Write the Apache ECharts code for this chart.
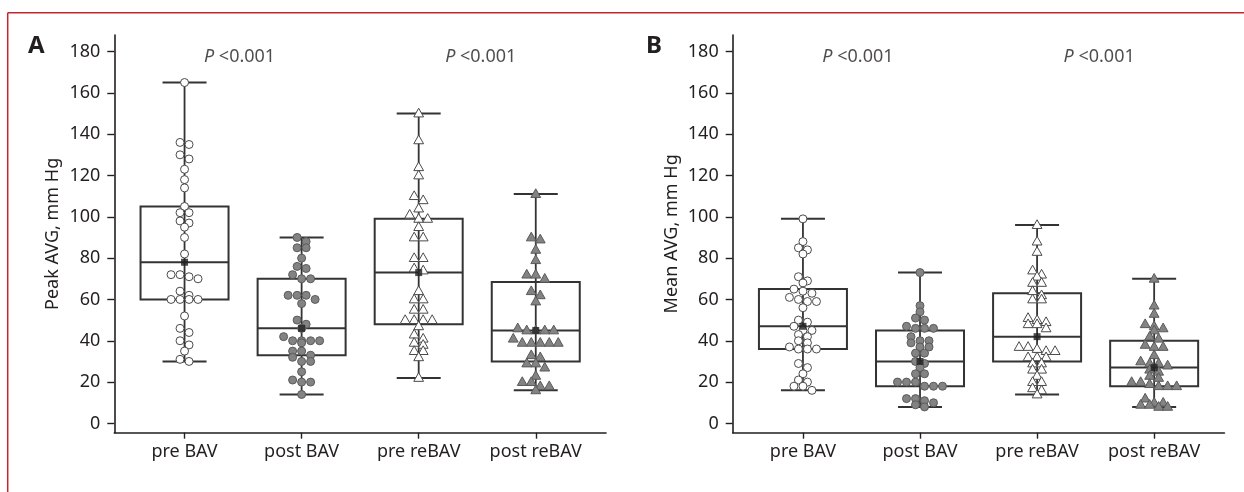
<!DOCTYPE html>
<html>
<head>
<meta charset="utf-8">
<script src="https://cdn.jsdelivr.net/npm/echarts@6/dist/echarts.min.js"></script>
<style>
  html, body { margin: 0; padding: 0; background: #fff; }
  #main { width: 1244px; height: 492px; }
</style>
</head>
<body>
<div id="main"></div>
<script>
  var categories = ['pre BAV', 'post BAV', 'pre reBAV', 'post reBAV'];
  var yTicks = [0, 20, 40, 60, 80, 100, 120, 140, 160, 180];
  var xTicks = [1, 2, 3, 4];
  var pLabels = ['<0.001', '<0.001'];

  // panel A - Peak AVG
  var peakPreBav = [165, 136, 135, 130, 128, 123, 118, 114, 105, 102, 102, 98, 97, 95, 90, 82, 72, 72, 71, 70, 64, 62, 60, 60, 60, 60, 52, 46, 44, 40, 38, 35, 31, 30];
  var peakPostBav = [90, 88, 85, 85, 80, 76, 75, 72, 70, 70, 62, 62, 62, 60, 58, 50, 48, 46, 42, 40, 40, 40, 40, 39, 35, 35, 33, 32, 30, 30, 25, 21, 20, 20, 14];
  var peakPreReBav = [150, 137, 124, 120, 110, 108, 104, 101, 99, 99, 95, 90, 90, 80, 80, 75, 74, 64, 60, 60, 55, 55, 50, 50, 50, 50, 47, 43, 41, 39, 38, 35, 35, 32, 22];
  var peakPostReBav = [111, 90, 89, 84, 79, 72, 72, 70, 64, 62, 59, 46, 45, 45, 45, 45, 41, 39, 39, 39, 39, 39, 33, 32, 29, 29, 27, 23, 20, 20, 18, 18, 16];
  // [min, Q1, median, Q3, max]
  var peakBoxes = [[30, 60, 78, 105, 165], [14, 33, 46, 70, 90], [22, 48, 73, 99, 150], [16, 30, 45, 68.5, 111]];
  var peakMeans = [78, 46, 73, 45];

  // panel B - Mean AVG
  var meanPreBav = [99, 88, 85, 84, 82, 71, 69, 68, 65, 64, 63, 61, 60, 59, 59, 56, 50, 49, 47, 45, 45, 43, 42, 40, 39, 37, 36, 36, 36, 29, 27, 24, 21, 20, 18, 18, 16];
  var meanPostBav = [73, 57, 54, 51, 50, 47, 46, 46, 46, 42, 40, 40, 39, 37, 37, 34, 34, 30, 29, 27, 24, 24, 20, 20, 20, 18, 18, 18, 12, 12, 11, 10, 9, 8];
  var meanPreReBav = [96, 88, 83, 74, 72, 71, 68, 68, 64, 62, 60, 60, 51, 50, 49, 48, 48, 46, 37, 37, 36, 35, 35, 32, 32, 32, 29, 29, 26, 26, 23, 20, 20, 17, 16, 14];
  var meanPostReBav = [70, 57, 53, 48, 47, 46, 45, 42, 41, 38, 37, 37, 33, 30, 29, 29, 28, 26, 25, 23, 22, 20, 20, 19, 18, 18, 18, 12, 10, 10, 9, 9, 8, 8];
  var meanBoxes = [[16, 36, 47, 65, 99], [8, 18, 30, 45, 73], [14, 30, 42, 63, 96], [8, 18, 27, 40, 70]];
  var meanMeans = [47, 30, 42, 27];

  var FONT = '"Noto Sans", "Open Sans", sans-serif';
  var INK = '#231f20';
  var LINE = '#333333';

  // points with close values go in one row, centred on the category
  function swarm(values, x) {
    var sorted = values.slice().sort(function (a, b) { return b - a; });
    var out = [], bin = [];
    function flush() {
      bin.forEach(function (v, i) {
        out.push([x, v, (i - (bin.length - 1) / 2) * 9]);
      });
      bin = [];
    }
    sorted.forEach(function (v) {
      if (bin.length && bin[0] - v > 2.5) flush();
      bin.push(v);
    });
    flush();
    return out;
  }

  function renderBox(params, api) {
    var x = api.value(0);
    var pMin = api.coord([x, api.value(1)]);
    var pQ1 = api.coord([x, api.value(2)]);
    var pMed = api.coord([x, api.value(3)]);
    var pQ3 = api.coord([x, api.value(4)]);
    var pMax = api.coord([x, api.value(5)]);
    var cx = pMin[0];
    var st = { stroke: LINE, lineWidth: 2, fill: null };
    return {
      type: 'group',
      children: [
        { type: 'line', shape: { x1: cx, y1: pMax[1], x2: cx, y2: pMin[1] }, style: { stroke: LINE, lineWidth: 1.8 } },
        { type: 'line', shape: { x1: cx - 22, y1: pMax[1], x2: cx + 22, y2: pMax[1] }, style: st },
        { type: 'line', shape: { x1: cx - 22, y1: pMin[1], x2: cx + 22, y2: pMin[1] }, style: st },
        { type: 'rect', shape: { x: cx - 44, y: pQ3[1], width: 88, height: pQ1[1] - pQ3[1] }, style: st },
        { type: 'line', shape: { x1: cx - 44, y1: pMed[1], x2: cx + 44, y2: pMed[1] }, style: st }
      ]
    };
  }

  function pointRenderer(shape, fill, stroke) {
    return function (params, api) {
      var p = api.coord([api.value(0), api.value(1)]);
      var cx = p[0] + api.value(2), cy = p[1];
      var style = { fill: fill, stroke: stroke, lineWidth: 1 };
      if (shape === 'circle') {
        return { type: 'circle', shape: { cx: cx, cy: cy, r: 4 }, style: style };
      }
      return { type: 'polygon', shape: { points: [[cx, cy - 5.3], [cx - 4.9, cy + 3.4], [cx + 4.9, cy + 3.4]] }, style: style };
    };
  }

  var markerStyles = [
    ['circle', '#ffffff', '#4a4a4a'],
    ['circle', '#838383', '#5a5a5a'],
    ['triangle', '#ffffff', '#4a4a4a'],
    ['triangle', '#838383', '#5a5a5a']
  ];

  var panels = [
    { name: 'Peak AVG, mm Hg', left: 114.3, groups: [peakPreBav, peakPostBav, peakPreReBav, peakPostReBav], boxes: peakBoxes, means: peakMeans },
    { name: 'Mean AVG, mm Hg', left: 732.7, groups: [meanPreBav, meanPostBav, meanPreReBav, meanPostReBav], boxes: meanBoxes, means: meanMeans }
  ];

  var grids = [], xAxes = [], yAxes = [], series = [];
  panels.forEach(function (pn, k) {
    grids.push({ left: pn.left, top: 35, width: 491.7, height: 397.7 });
    xAxes.push({
      type: 'value', gridIndex: k, min: 0.4, max: 4.6,
      axisLine: { onZero: false, lineStyle: { color: INK, width: 1.6 } },
      axisTick: { customValues: xTicks, length: 6, lineStyle: { color: INK, width: 1.4 } },
      axisLabel: {
        customValues: xTicks, margin: 10, color: INK, fontSize: 18, fontFamily: FONT,
        formatter: function (v) { return categories[Math.round(v) - 1]; }
      },
      splitLine: { show: false }
    });
    yAxes.push({
      type: 'value', gridIndex: k, min: -4.5, max: 188,
      name: pn.name, nameLocation: 'middle', nameGap: 52,
      nameTextStyle: { color: INK, fontSize: 18, fontFamily: FONT },
      axisLine: { onZero: false, lineStyle: { color: INK, width: 1.6 } },
      axisTick: { customValues: yTicks, length: 7, lineStyle: { color: INK, width: 1.4 } },
      axisLabel: { customValues: yTicks, margin: 14, color: INK, fontSize: 18, fontFamily: FONT },
      splitLine: { show: false }
    });
    series.push({
      type: 'custom', xAxisIndex: k, yAxisIndex: k, z: 2, clip: false,
      renderItem: renderBox,
      data: pn.boxes.map(function (b, i) { return [i + 1].concat(b); })
    });
    pn.groups.forEach(function (vals, i) {
      var ms = markerStyles[i];
      series.push({
        type: 'custom', xAxisIndex: k, yAxisIndex: k, z: 3, clip: false,
        renderItem: pointRenderer(ms[0], ms[1], ms[2]),
        data: swarm(vals, i + 1)
      });
    });
    series.push({
      type: 'scatter', xAxisIndex: k, yAxisIndex: k, z: 4,
      symbol: 'rect', symbolSize: 7, itemStyle: { color: INK },
      data: pn.means.map(function (m, i) { return [i + 1, m]; })
    });
    series.push({
      type: 'scatter', xAxisIndex: k, yAxisIndex: k, z: 4, symbolSize: 0,
      data: [[1.47, 177.3], [3.53, 177.3]],
      label: {
        show: true, position: 'inside',
        formatter: function (p) { return '{i|P} ' + pLabels[p.dataIndex]; },
        color: INK, fontSize: 18, fontFamily: FONT,
        rich: { i: { fontStyle: 'italic', fontSize: 18, fontFamily: FONT, color: INK } }
      }
    });
  });

  var chart = echarts.init(document.getElementById('main'));
  chart.setOption({
    animation: false,
    backgroundColor: '#ffffff',
    grid: grids,
    xAxis: xAxes,
    yAxis: yAxes,
    series: series,
    graphic: [
      { type: 'line', shape: { x1: 7.7, y1: 12.7, x2: 1244, y2: 12.7 }, style: { stroke: '#c1272d', lineWidth: 1.5 } },
      { type: 'line', shape: { x1: 7.7, y1: 12.7, x2: 7.7, y2: 492 }, style: { stroke: '#c1272d', lineWidth: 1.5 } },
      { type: 'text', left: 28, top: 34, style: { text: 'A', font: 'bold 24px ' + FONT, fill: INK } },
      { type: 'text', left: 646, top: 34, style: { text: 'B', font: 'bold 24px ' + FONT, fill: INK } }
    ]
  });
</script>
</body>
</html>
